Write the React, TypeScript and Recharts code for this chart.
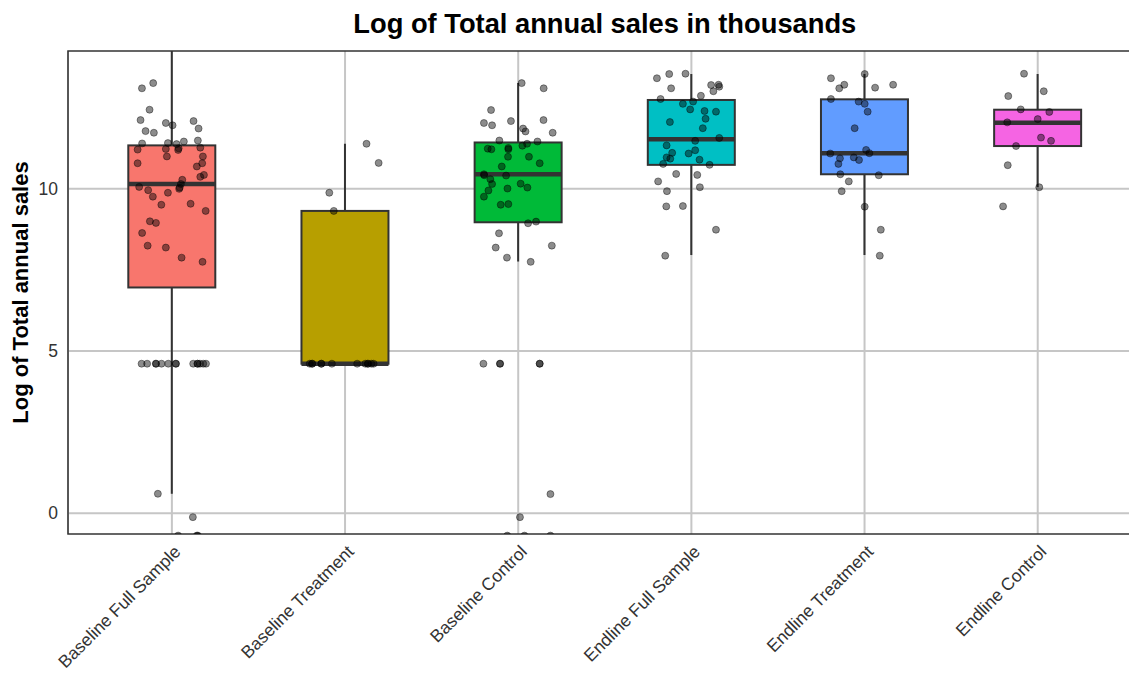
import React from 'react';
import {
  ComposedChart,
  Bar,
  Scatter,
  XAxis,
  YAxis,
  CartesianGrid,
  ReferenceArea,
} from 'recharts';

const FONT = '"Liberation Sans", Arial, sans-serif';

const categories = [
  'Baseline Full Sample',
  'Baseline Treatment',
  'Baseline Control',
  'Endline Full Sample',
  'Endline Treatment',
  'Endline Control',
];
const boxColors = ['#F8766D', '#B79F00', '#00BA38', '#00BFC4', '#619CFF', '#F564E3'];

// box statistics
const whiskerLow = [0.6, 4.61, 7.76, 7.96, 7.96, 10.06];
const q1 = [6.96, 4.61, 8.97, 10.74, 10.45, 11.32];
const median = [10.15, 4.61, 10.45, 11.53, 11.1, 12.04];
const q3 = [11.34, 9.32, 11.43, 12.74, 12.76, 12.44];
const whiskerHigh = [14.6, 11.39, 13.26, 13.54, 13.54, 13.54];

const yTicks = [0, 5, 10];

// jittered observations: [horizontal jitter, value]
const ptsBaselineFull: [number, number][] = [
  [-0.173, 13.1], [-0.108, 13.26], [-0.129, 12.44], [-0.181, 12.12], [-0.035, 12.03],
  [0.004, 11.96], [0.125, 12.09], [0.154, 11.86], [-0.152, 11.78], [-0.104, 11.73],
  [-0.172, 11.4], [-0.023, 11.41], [0.027, 11.38], [0.069, 11.46], [0.15, 11.49],
  [-0.198, 11.21], [-0.035, 11.23], [0.039, 11.25], [0.036, 11.2], [0.164, 11.27],
  [-0.029, 11.0], [0.179, 11.0], [-0.198, 10.79], [0.175, 10.79], [0.144, 10.69],
  [0.185, 10.43], [0.164, 10.37], [0.06, 10.28], [0.052, 10.15], [0.042, 10.0],
  [0.045, 10.04], [-0.189, 10.06], [-0.137, 9.96], [-0.11, 9.76], [-0.023, 9.88],
  [-0.061, 9.51], [0.108, 9.54], [0.195, 9.32], [-0.127, 9.0], [-0.092, 8.95],
  [-0.172, 8.64], [-0.14, 8.25], [-0.035, 8.19], [0.056, 7.88], [0.177, 7.75],
  [-0.175, 4.61], [-0.143, 4.61], [-0.092, 4.61], [-0.092, 4.61], [-0.06, 4.61],
  [-0.021, 4.61], [0.023, 4.61], [0.023, 4.61], [0.123, 4.61], [0.148, 4.61],
  [0.148, 4.61], [0.162, 4.61], [0.181, 4.61], [0.197, 4.61],
  [-0.081, 0.6], [0.121, -0.12], [0.036, -0.69], [0.144, -0.69], [0.15, -0.69],
];
const ptsBaselineTreat: [number, number][] = [
  [0.124, 11.39], [0.194, 10.8], [-0.091, 9.88], [-0.065, 9.32],
  [-0.204, 4.61], [-0.19, 4.61], [-0.137, 4.61], [-0.076, 4.61], [0.07, 4.61],
  [0.117, 4.61], [0.132, 4.61], [0.152, 4.61], [0.165, 4.61], [-0.19, 4.61],
  [0.132, 4.61], [-0.137, 4.61],
];
const ptsBaselineCtrl: [number, number][] = [
  [0.02, 13.26], [0.147, 13.1], [-0.157, 12.43], [-0.198, 12.03], [-0.151, 11.96],
  [-0.042, 12.09], [0.146, 12.12], [0.028, 11.86], [0.042, 11.77], [0.199, 11.73],
  [-0.109, 11.49], [0.111, 11.46], [0.051, 11.39], [0.024, 11.33], [-0.176, 11.24],
  [-0.155, 11.22], [-0.057, 11.26], [-0.057, 11.22], [-0.059, 10.99], [0.062, 10.99],
  [0.124, 10.79], [-0.095, 10.69], [-0.198, 10.45], [-0.196, 10.42], [-0.07, 10.41],
  [-0.161, 10.3], [-0.151, 10.15], [0.014, 10.16], [0.053, 10.04], [-0.062, 10.01],
  [-0.172, 9.95], [-0.198, 9.76], [-0.101, 9.51], [-0.057, 9.53], [0.057, 8.94],
  [0.103, 8.99], [-0.111, 8.63], [-0.13, 8.19], [0.194, 8.25], [-0.065, 7.88],
  [0.072, 7.75],
  [-0.201, 4.61], [-0.105, 4.61], [-0.105, 4.61], [0.124, 4.61], [0.124, 4.61],
  [0.186, 0.59], [0.01, -0.12], [-0.063, -0.69], [0.036, -0.69], [0.186, -0.69],
];
const ptsEndlineFull: [number, number][] = [
  [-0.199, 13.41], [-0.128, 13.54], [-0.034, 13.55], [-0.117, 13.1], [0.114, 13.2],
  [0.157, 13.21], [0.161, 13.15], [0.127, 13.01], [0.055, 12.87], [-0.178, 12.77],
  [0.01, 12.69], [-0.049, 12.62], [-0.007, 12.45], [0.076, 12.4], [0.142, 12.38],
  [0.082, 12.16], [-0.124, 12.06], [0.066, 11.87], [0.161, 11.57], [0.022, 11.48],
  [-0.143, 11.34], [-0.111, 11.11], [0.022, 11.19], [-0.016, 11.09], [-0.143, 10.97],
  [-0.122, 10.93], [0.047, 10.9], [-0.163, 10.77], [0.105, 10.74], [-0.088, 10.46],
  [0.034, 10.43], [-0.192, 10.23], [0.049, 10.05], [-0.141, 9.93], [-0.145, 9.46],
  [-0.049, 9.47], [0.142, 8.74], [-0.151, 7.94],
];
const ptsEndlineTreat: [number, number][] = [
  [-0.194, 13.41], [0.001, 13.54], [-0.146, 13.1], [-0.117, 13.21], [0.061, 13.12],
  [0.165, 13.21], [-0.194, 12.77], [-0.034, 12.69], [0.001, 12.62], [0.018, 12.38],
  [-0.057, 11.87], [0.009, 11.2], [0.028, 11.1], [-0.198, 11.09], [-0.142, 10.94],
  [-0.062, 10.97], [-0.032, 10.89], [-0.151, 10.77], [-0.14, 10.45], [0.082, 10.42],
  [-0.091, 10.23], [-0.132, 9.93], [0.001, 9.45], [0.094, 8.74], [0.088, 7.94],
];
const ptsEndlineCtrl: [number, number][] = [
  [-0.079, 13.55], [0.035, 13.01], [-0.17, 12.86], [-0.098, 12.45], [0.067, 12.37],
  [0.0, 12.15], [-0.176, 12.05], [0.019, 11.58], [0.077, 11.48], [-0.125, 11.32],
  [-0.173, 10.73], [0.009, 10.05], [-0.2, 9.46],
];

const pointSets = [
  ptsBaselineFull,
  ptsBaselineTreat,
  ptsBaselineCtrl,
  ptsEndlineFull,
  ptsEndlineTreat,
  ptsEndlineCtrl,
];

const boxData = categories.map((name, i) => ({
  name,
  range: [whiskerLow[i], whiskerHigh[i]],
  lo: whiskerLow[i],
  hi: whiskerHigh[i],
  q1: q1[i],
  med: median[i],
  q3: q3[i],
  fill: boxColors[i],
}));

const scatterData = pointSets.flatMap((pts, i) =>
  pts.map(([j, v]) => ({ x: i + 1 + j, y: v }))
);

// box + whiskers drawn inside the whisker-range bar
const BoxShape = (props: any) => {
  const { x, y, width, height, payload } = props;
  const { lo, hi, fill } = payload;
  const top = Math.min(y, y + height);
  const k = Math.abs(height) / (hi - lo);
  const py = (v: number) => top + (hi - v) * k;
  const cx = x + width / 2;
  return (
    <g>
      <line x1={cx} x2={cx} y1={py(hi)} y2={py(payload.q3)} stroke="#333" strokeWidth={2} />
      <line x1={cx} x2={cx} y1={py(payload.q1)} y2={py(lo)} stroke="#333" strokeWidth={2} />
      <rect
        x={x}
        y={py(payload.q3)}
        width={width}
        height={py(payload.q1) - py(payload.q3)}
        fill={fill}
        stroke="#333"
        strokeWidth={2}
      />
      <line
        x1={x}
        x2={x + width}
        y1={py(payload.med)}
        y2={py(payload.med)}
        stroke="#333"
        strokeWidth={4.5}
      />
    </g>
  );
};

const Dot = (props: any) => (
  <circle
    cx={props.cx}
    cy={props.cy}
    r={3.5}
    fill="#000"
    fillOpacity={0.45}
    stroke="#000"
    strokeOpacity={0.5}
    strokeWidth={0.8}
  />
);

const XTick = (props: any) => {
  const { x, y, payload } = props;
  return (
    <g transform={`translate(${x + 1},${y + 10})`}>
      <text
        x={0}
        y={0}
        dy="0.71em"
        textAnchor="end"
        transform="rotate(-45)"
        fill="#333"
        fontSize={17.5}
        fontFamily={FONT}
      >
        {payload.value}
      </text>
    </g>
  );
};

const YTitle = (props: any) => {
  const { viewBox } = props;
  const cx = viewBox.x + 20.5;
  const cy = viewBox.y + viewBox.height / 2;
  return (
    <text
      x={cx}
      y={cy}
      transform={`rotate(-90 ${cx} ${cy})`}
      textAnchor="middle"
      dominantBaseline="central"
      fontSize={22}
      fontWeight="bold"
      fontFamily={FONT}
      fill="#000"
    >
      Log of Total annual sales
    </text>
  );
};

export default function App() {
  return (
    <div
      style={{
        position: 'absolute',
        left: 0,
        top: 0,
        width: 1129,
        height: 673,
        overflow: 'hidden',
        background: '#fff',
      }}
    >
      <div
        style={{
          position: 'absolute',
          left: 0,
          top: 8,
          width: 1209.6,
          textAlign: 'center',
          fontFamily: FONT,
          fontWeight: 'bold',
          fontSize: 27.3,
          color: '#000',
        }}
      >
        Log of Total annual sales in thousands
      </div>
      <ComposedChart
        width={1150}
        height={673}
        data={boxData}
        margin={{ top: 51, right: 8.4, bottom: 0, left: 0 }}
      >
        <CartesianGrid
          xAxisId="cat"
          stroke="#c6c6c6"
          strokeWidth={2}
          horizontalValues={yTicks}
        />
        <XAxis
          xAxisId="cat"
          dataKey="name"
          type="category"
          padding={{ left: 17.3, right: 17.3 }}
          height={139}
          tickLine={false}
          tickSize={0}
          tickMargin={0}
          axisLine={false}
          interval={0}
          tick={<XTick />}
        />
        <XAxis
          xAxisId="num"
          dataKey="x"
          type="number"
          domain={[0.4, 6.6]}
          allowDataOverflow
          hide
        />
        <YAxis
          type="number"
          domain={[-0.64, 14.25]}
          allowDataOverflow
          ticks={yTicks}
          width={68}
          tickLine={false}
          tickSize={0}
          tickMargin={10}
          axisLine={false}
          tick={{ fill: '#333', fontSize: 17.5, fontFamily: FONT }}
          label={<YTitle />}
        />
        <Bar
          xAxisId="cat"
          dataKey="range"
          barSize={87}
          shape={<BoxShape />}
          isAnimationActive={false}
        />
        <Scatter
          xAxisId="num"
          data={scatterData}
          dataKey="y"
          shape={<Dot />}
          isAnimationActive={false}
        />
        <ReferenceArea
          xAxisId="num"
          x1={0.4}
          x2={6.6}
          y1={-0.64}
          y2={14.25}
          fill="none"
          fillOpacity={0}
          stroke="#333"
          strokeWidth={1.5}
          ifOverflow="visible"
        />
      </ComposedChart>
    </div>
  );
}
